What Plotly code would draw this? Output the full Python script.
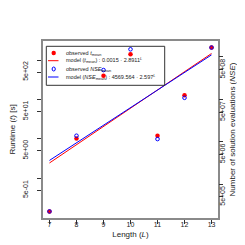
import plotly.graph_objects as go

# ---- data ----
L = [7, 8, 9, 10, 11, 12, 13]
t_mean = [0.144, 10.3, 400, 1410, 12.1, 128, 2090]
nse_mean = [2.28e5, 1.39e7, 4.92e8, 1.52e9, 1.16e7, 1.09e8, 1.67e9]
L_model = [7, 13]
t_model = [2.45, 1480]
nse_model = [3.64e6, 1.12e9]

x_ticks = [7, 8, 9, 10, 11, 12, 13]
t_tickvals = [0.5, 1, 5, 10, 50, 100, 500, 1000]
t_ticktext = ["5e-01", "", "5e+00", "", "5e+01", "", "5e+02", ""]
nse_tickvals = [5e5, 1e6, 5e6, 1e7, 5e7, 1e8, 5e8, 1e9]
nse_ticktext = ["5e+05", "", "5e+06", "", "5e+07", "", "5e+08", ""]

legend_labels = [
    "observed <i>t</i><sub>mean</sub>",
    "model (<i>t</i><sub>mean</sub>) : 0.0015 · 2.8911<sup><i>L</i></sup>",
    "observed <i>NSE</i><sub>mean</sub>",
    "model (<i>NSE</i><sub>mean</sub>) : 4569.564 · 2.597<sup><i>L</i></sup>",
]

RED = "#ff0000"
BLUE = "#0000ff"
FONT = "Liberation Sans, Arial, sans-serif"
W = H = 245
ML, MR, MT, MB = 35, 35, 33, 35
PW, PH = W - ML - MR, H - MT - MB

def px(x):
    return (x - ML) / PW

def py(y):
    return (H - MB - y) / PH

fig = go.Figure()
fig.add_trace(go.Scatter(x=L, y=t_mean, mode="markers",
                         marker=dict(color=RED, size=4.5, symbol="circle"),
                         yaxis="y", showlegend=False))
fig.add_trace(go.Scatter(x=L_model, y=t_model, mode="lines",
                         line=dict(color=RED, width=1),
                         yaxis="y", showlegend=False))
fig.add_trace(go.Scatter(x=L, y=nse_mean, mode="markers",
                         marker=dict(color=BLUE, size=3.6, symbol="circle-open",
                                     line=dict(color=BLUE, width=1)),
                         xaxis="x", yaxis="y2", showlegend=False))
fig.add_trace(go.Scatter(x=L_model, y=nse_model, mode="lines",
                         line=dict(color=BLUE, width=1),
                         xaxis="x", yaxis="y2", showlegend=False))

axis_common = dict(showgrid=False, zeroline=False, ticks="outside", ticklen=4,
                   tickcolor="#333", tickwidth=1,
                   tickfont=dict(family=FONT, size=7, color="#222"))

fig.update_layout(
    width=W, height=H,
    margin=dict(l=ML, r=MR, t=MT, b=MB, pad=0),
    paper_bgcolor="white", plot_bgcolor="white",
    font=dict(family=FONT, color="#222"),
    showlegend=False,
    xaxis=dict(range=[6.76, 13.24], tickvals=x_ticks,
               showline=True, mirror=True, linecolor="#8a8a8a", linewidth=2,
               ticklabelstandoff=-5,
               title=dict(text="Length (<i>L</i>)", font=dict(family=FONT, size=8, color="#222"),
                          standoff=4),
               automargin=False, **axis_common),
    yaxis=dict(type="log", range=[-1.008, 3.487], tickvals=t_tickvals, ticktext=t_ticktext,
               tickangle=-90, showline=True, mirror=True, linecolor="#8a8a8a", linewidth=2,
               ticklabelstandoff=6,
               title=dict(text="Runtime (<i>t</i>) [s]", font=dict(family=FONT, size=8, color="#222"),
                          standoff=16),
               automargin=False, **axis_common),
    yaxis2=dict(type="log", range=[5.203, 9.377], tickvals=nse_tickvals, ticktext=nse_ticktext,
                tickangle=-90, overlaying="y", side="right", anchor="x",
                showline=False, ticklabelstandoff=-6,
                title=dict(text="Number of solution evaluations (<i>NSE</i>)",
                           font=dict(family=FONT, size=8, color="#222"), standoff=3),
                automargin=False, **axis_common),
)

# ---- hand-drawn legend (R style) ----
shapes = [dict(type="rect", xref="paper", yref="paper",
               x0=px(38.3), x1=px(156.7), y0=py(77.3), y1=py(38.3),
               line=dict(color="#333", width=1), fillcolor="rgba(0,0,0,0)")]
rows = [45, 52.7, 61, 69]
mx = 45.7
shapes.append(dict(type="circle", xref="paper", yref="paper",
                   x0=px(mx - 2.2), x1=px(mx + 2.2), y0=py(rows[0] + 2.2), y1=py(rows[0] - 2.2),
                   fillcolor=RED, line=dict(color=RED, width=0)))
shapes.append(dict(type="line", xref="paper", yref="paper",
                   x0=px(40), x1=px(50.5), y0=py(rows[1]), y1=py(rows[1]),
                   line=dict(color=RED, width=1)))
shapes.append(dict(type="circle", xref="paper", yref="paper",
                   x0=px(mx - 1.6), x1=px(mx + 1.6), y0=py(rows[2] + 2.0), y1=py(rows[2] - 2.0),
                   line=dict(color=BLUE, width=1)))
shapes.append(dict(type="line", xref="paper", yref="paper",
                   x0=px(40), x1=px(50.5), y0=py(rows[3]), y1=py(rows[3]),
                   line=dict(color=BLUE, width=1)))
fig.update_layout(shapes=shapes)

for label, r in zip(legend_labels, rows):
    fig.add_annotation(xref="paper", yref="paper", x=px(55.5), y=py(r), text=label,
                       showarrow=False, xanchor="left", yanchor="middle",
                       font=dict(family=FONT, size=5.5, color="#222"))

fig.write_html("out.html")
